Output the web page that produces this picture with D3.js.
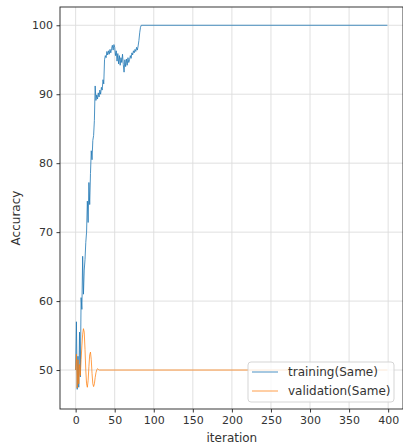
<!DOCTYPE html>
<html>
<head>
<meta charset="utf-8">
<script src="https://cdn.jsdelivr.net/npm/d3@7"></script>
<style>
  html, body { margin: 0; padding: 0; background: #fff; }
  svg { display: block; font-family: "DejaVu Sans", sans-serif; }
</style>
</head>
<body>
<svg id="chart" width="403" height="446"></svg>
<script>
// Training accuracy per iteration (the flat run at 100 is given by its end points)
const trainingIterations = [
  0, 1, 2, 3, 4, 5, 6, 7, 8, 9, 10, 11, 12, 13, 14, 15, 16, 17, 18, 19,
  20, 21, 22, 23, 24, 25, 26, 27, 28, 29, 30, 31, 32, 33, 34, 35, 36, 37, 38, 39,
  40, 41, 42, 43, 44, 45, 46, 47, 48, 49, 50, 51, 52, 53, 54, 55, 56, 57, 58, 59,
  60, 61, 62, 63, 64, 65, 66, 67, 68, 69, 70, 71, 72, 73, 74, 75, 76, 77, 78, 79,
  80, 81, 82, 83, 84, 85, 399
];
const trainingAccuracy = [
  50.0, 57.0, 47.2, 52.0, 47.5, 55.5, 49.0, 60.5, 58.8, 66.5, 61.0, 64.5, 66.0, 68.5, 70.0, 74.5, 71.4, 77.2, 74.0, 78.5,
  81.8, 80.5, 83.3, 84.0, 86.2, 91.2, 89.1, 89.9, 89.3, 90.2, 89.6, 90.6, 90.0, 91.0, 90.6, 92.1, 91.5, 95.0, 95.6, 95.3,
  96.2, 95.7, 96.3, 95.8, 96.5, 96.0, 96.6, 97.1, 96.4, 97.2, 96.8, 95.6, 96.3, 94.8, 95.9, 94.4, 95.6, 94.2, 95.3, 94.6,
  95.8, 94.3, 93.2, 95.0, 94.0, 95.1, 94.2, 95.3, 94.6, 95.0, 95.6, 95.2, 96.0, 95.7, 96.3, 96.0, 96.5, 96.2, 96.8, 96.4,
  97.0, 97.8, 98.9, 99.7, 100, 100, 100
];

// Validation accuracy per iteration (settles at 50)
const validationIterations = [
  0, 1, 2, 3, 4, 5, 6, 7, 8, 9, 10, 11, 12, 13, 14, 15, 16, 17, 18, 19,
  20, 21, 22, 23, 24, 25, 26, 27, 28, 29, 30, 31, 399
];
const validationAccuracy = [
  50.0, 52.3, 47.4, 51.5, 48.0, 50.8, 49.2, 51.5, 53.5, 55.2, 56.0, 55.5, 53.0, 50.0, 48.0, 47.5, 48.5, 50.5, 52.2, 52.6,
  51.5, 49.5, 48.0, 47.6, 48.0, 48.9, 49.6, 50.0, 50.2, 50.1, 50.0, 50.0, 50.0
];

const xTicks = [0, 50, 100, 150, 200, 250, 300, 350, 400];
const yTicks = [50, 60, 70, 80, 90, 100];
const seriesNames = ["training(Same)", "validation(Same)"];
const seriesColors = ["#1f77b4", "#ff7f0e"];

const svg = d3.select("#chart");
const plot = { left: 60, right: 403, top: 7, bottom: 409 };

const x = d3.scaleLinear().domain([-20, 419]).range([plot.left, plot.right]);
const y = d3.scaleLinear().domain([44.35, 102.65]).range([plot.bottom, plot.top]);

// grid
const grid = svg.append("g").attr("stroke", "#dcdcdc").attr("stroke-width", 0.9);
grid.selectAll("line.gx").data(xTicks).join("line")
  .attr("x1", d => x(d)).attr("x2", d => x(d))
  .attr("y1", plot.top).attr("y2", plot.bottom);
grid.selectAll("line.gy").data(yTicks).join("line")
  .attr("x1", plot.left).attr("x2", plot.right)
  .attr("y1", d => y(d)).attr("y2", d => y(d));

// series
const line = d3.line().x(d => x(d[0])).y(d => y(d[1]));
const series = [
  d3.zip(trainingIterations, trainingAccuracy),
  d3.zip(validationIterations, validationAccuracy)
];
svg.append("g").selectAll("path").data(series).join("path")
  .attr("d", line)
  .attr("fill", "none")
  .attr("stroke", (d, i) => seriesColors[i])
  .attr("stroke-width", 1)
  .attr("stroke-opacity", (d, i) => i === 0 ? 0.8 : 0.75);

// axes
const xAxis = d3.axisBottom(x).tickValues(xTicks).tickSize(3.5).tickPadding(3.5);
const yAxis = d3.axisLeft(y).tickValues(yTicks).tickSize(3.5).tickPadding(3.5);

const gx = svg.append("g").attr("transform", `translate(0,${plot.bottom})`).call(xAxis);
const gy = svg.append("g").attr("transform", `translate(${plot.left},0)`).call(yAxis);
[gx, gy].forEach(g => {
  g.select(".domain").remove();
  g.selectAll(".tick line").attr("stroke", "#222").attr("stroke-width", 0.9);
  g.selectAll(".tick text").attr("fill", "#333").style("font-size", "11px")
    .style("font-family", "'DejaVu Sans', sans-serif");
});

// frame
svg.append("rect")
  .attr("x", plot.left).attr("y", plot.top)
  .attr("width", plot.right - plot.left).attr("height", plot.bottom - plot.top)
  .attr("fill", "none").attr("stroke", "#222").attr("stroke-width", 0.9);

// axis labels
svg.append("text")
  .attr("x", x(200)).attr("y", 442)
  .attr("text-anchor", "middle").attr("fill", "#333")
  .style("font-size", "12px").text("iteration");
svg.append("text")
  .attr("transform", `translate(20,${(plot.top + plot.bottom) / 2 + 10}) rotate(-90)`)
  .attr("text-anchor", "middle").attr("fill", "#333")
  .style("font-size", "12px").text("Accuracy");

// legend
const legend = svg.append("g").attr("transform", "translate(248,362)");
legend.append("rect")
  .attr("width", 146).attr("height", 40).attr("rx", 3)
  .attr("fill", "#fff").attr("fill-opacity", 0.8)
  .attr("stroke", "#d0d0d0").attr("stroke-width", 0.9);
seriesNames.forEach((name, i) => {
  const ly = 10 + i * 19;
  legend.append("line")
    .attr("x1", 4).attr("x2", 30).attr("y1", ly).attr("y2", ly)
    .attr("stroke", seriesColors[i]).attr("stroke-width", 1)
    .attr("stroke-opacity", i === 0 ? 0.8 : 0.75);
  legend.append("text")
    .attr("x", 40).attr("y", ly + 4).attr("fill", "#333")
    .style("font-size", "12px").text(name);
});
</script>
</body>
</html>
